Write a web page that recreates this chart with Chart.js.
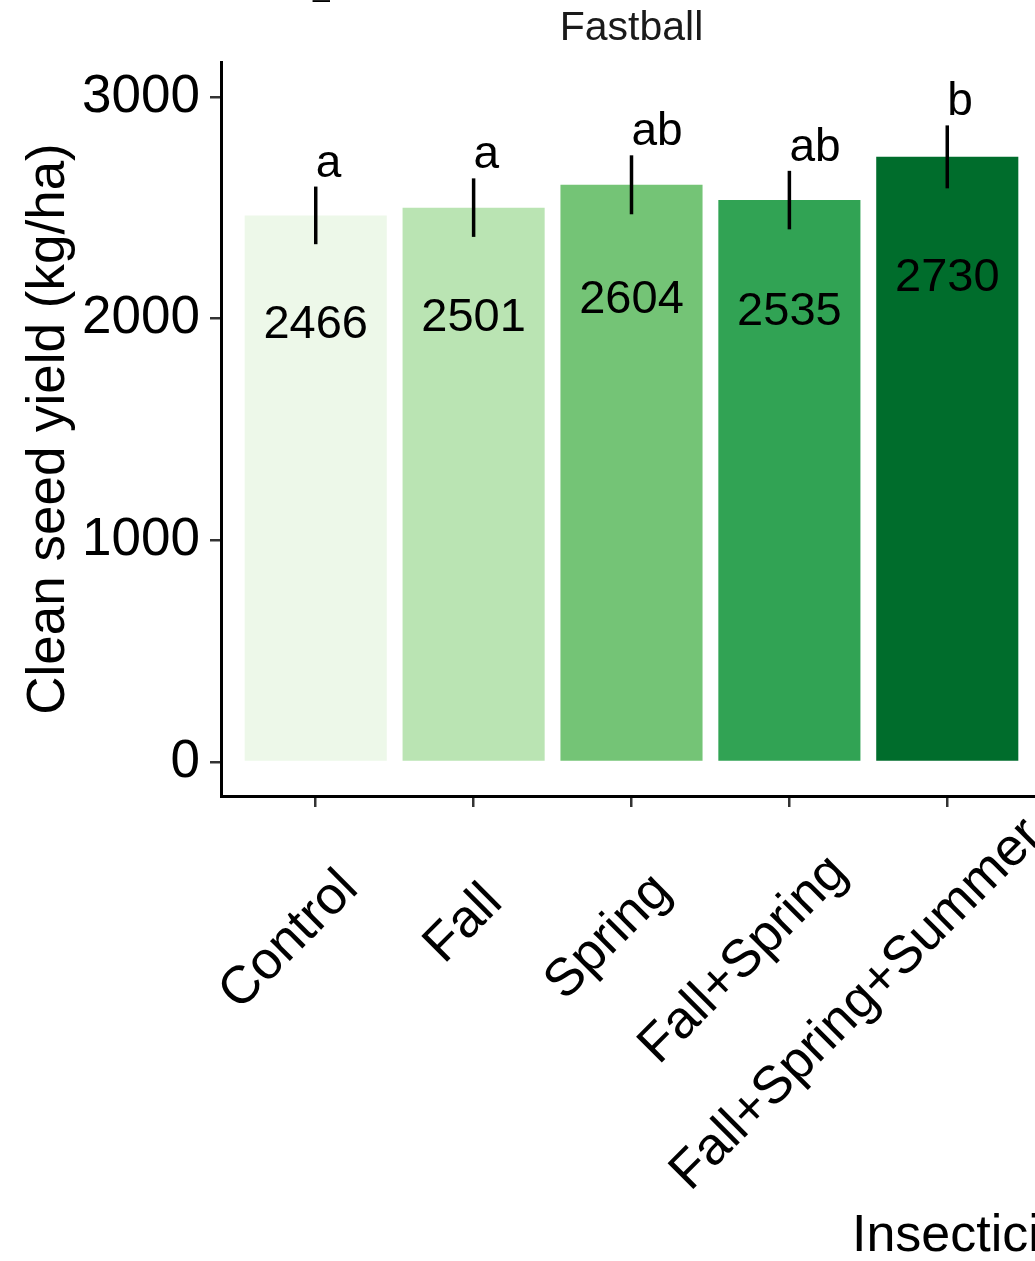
<!DOCTYPE html>
<html>
<head>
<meta charset="utf-8">
<script src="https://cdn.jsdelivr.net/npm/chart.js@4.4.0/dist/chart.umd.min.js"></script>
<style>
  html, body { margin: 0; padding: 0; overflow: hidden; background: #fff; width: 1035px; height: 1261px; }
  #wrap { position: relative; width: 1035px; height: 1261px; overflow: hidden; }
  canvas { display: block; }
</style>
</head>
<body>
<div id="wrap"><canvas id="chart" width="1060" height="1261"></canvas></div>
<script>
// Clean seed yield by insecticide timing, cultivar Fastball
const categories = ['Control', 'Fall', 'Spring', 'Fall+Spring', 'Fall+Spring+Summer'];
const yieldMeans = [2466, 2501, 2604, 2535, 2730];
const yieldSE = [130, 132, 133, 132, 142];
const groupLetters = ['a', 'a', 'ab', 'ab', 'b'];
const barColors = ['#EDF8E9', '#BAE4B3', '#74C476', '#31A354', '#006D2C'];
const yTicks = [0, 1000, 2000, 3000];

const FONT = '"Liberation Sans", Arial, Helvetica, sans-serif';

// error bars, group letters, value labels, rotated category labels and titles
const annotate = {
  id: 'annotate',
  afterDatasetsDraw(chart) {
    const { ctx, scales: { x, y } } = chart;
    ctx.save();
    categories.forEach((c, i) => {
      const px = x.getPixelForValue(i);
      const top = y.getPixelForValue(yieldMeans[i] + yieldSE[i]);
      const bot = y.getPixelForValue(yieldMeans[i] - yieldSE[i]);
      ctx.strokeStyle = '#000';
      ctx.lineWidth = 3.5;
      ctx.beginPath();
      ctx.moveTo(px, top);
      ctx.lineTo(px, bot);
      ctx.stroke();

      ctx.fillStyle = '#000';
      ctx.font = `46px ${FONT}`;
      ctx.textAlign = 'left';
      ctx.textBaseline = 'alphabetic';
      ctx.fillText(groupLetters[i], px, top - 10);

      ctx.font = `47px ${FONT}`;
      ctx.textAlign = 'center';
      ctx.textBaseline = 'middle';
      ctx.fillText(String(yieldMeans[i]), px, y.getPixelForValue(yieldMeans[i] * 0.8));
    });
    ctx.restore();
  },
  afterDraw(chart) {
    const { ctx, chartArea, scales: { x } } = chart;
    ctx.save();
    ctx.fillStyle = '#000';

    // category labels at 45 degrees
    ctx.font = `53px ${FONT}`;
    ctx.textAlign = 'left';
    ctx.textBaseline = 'alphabetic';
    categories.forEach((c, i) => {
      const px = x.getPixelForValue(i);
      const w = ctx.measureText(c).width;
      ctx.save();
      ctx.translate(px + 17, chartArea.bottom + 122);
      ctx.rotate(-Math.PI / 4);
      ctx.fillText(c, -0.774 * w, 0);
      ctx.restore();
    });

    // facet strip title
    ctx.font = `41px ${FONT}`;
    ctx.textAlign = 'center';
    ctx.fillStyle = '#1a1a1a';
    ctx.fillText('Fastball', (chartArea.left + chartArea.right) / 2, 40);
    ctx.fillStyle = '#000';

    // leftover of the heading above
    ctx.font = `30px ${FONT}`;
    ctx.textAlign = 'left';
    ctx.fillText('_', 313, -4);

    // y axis title
    ctx.font = `53px ${FONT}`;
    ctx.save();
    ctx.translate(49, (chartArea.top + chartArea.bottom) / 2);
    ctx.rotate(-Math.PI / 2);
    ctx.textAlign = 'center';
    ctx.textBaseline = 'middle';
    ctx.fillText('Clean seed yield (kg/ha)', 0, 0);
    ctx.restore();

    // x axis title
    ctx.font = `52px ${FONT}`;
    ctx.textAlign = 'left';
    ctx.textBaseline = 'alphabetic';
    ctx.fillText('Insecticide', 852, 1251);
    ctx.restore();
  }
};

const tickGrid = {
  display: true,
  drawOnChartArea: false,
  drawTicks: true,
  tickLength: 11,
  color: '#333333',
  lineWidth: 2.5,
  offset: false
};
const axisBorder = { display: true, color: '#000', width: 3 };

new Chart(document.getElementById('chart'), {
  type: 'bar',
  data: {
    datasets: [{
      data: yieldMeans.map((v, i) => ({ x: i, y: v })),
      backgroundColor: barColors,
      borderWidth: 0,
      barPercentage: 0.9,
      categoryPercentage: 1.0
    }]
  },
  options: {
    responsive: false,
    animation: false,
    devicePixelRatio: 1,
    layout: { padding: { top: 62, right: 18, left: 0, bottom: 0 } },
    plugins: { legend: { display: false }, tooltip: { enabled: false } },
    scales: {
      x: {
        type: 'linear',
        min: -0.6,
        max: 4.6,
        offset: false,
        afterBuildTicks: s => { s.ticks = categories.map((_, i) => ({ value: i })); },
        afterFit: s => { s.height = 465; },
        ticks: { display: false },
        grid: tickGrid,
        border: axisBorder
      },
      y: {
        type: 'linear',
        min: -153.4,
        max: 3158,
        afterBuildTicks: s => { s.ticks = yTicks.map(v => ({ value: v })); },
        afterFit: s => { s.width = 221; },
        ticks: {
          font: { family: FONT, size: 53 },
          color: '#000',
          padding: 10,
          callback: v => String(v)
        },
        grid: tickGrid,
        border: axisBorder
      }
    }
  },
  plugins: [annotate]
});
</script>
</body>
</html>
